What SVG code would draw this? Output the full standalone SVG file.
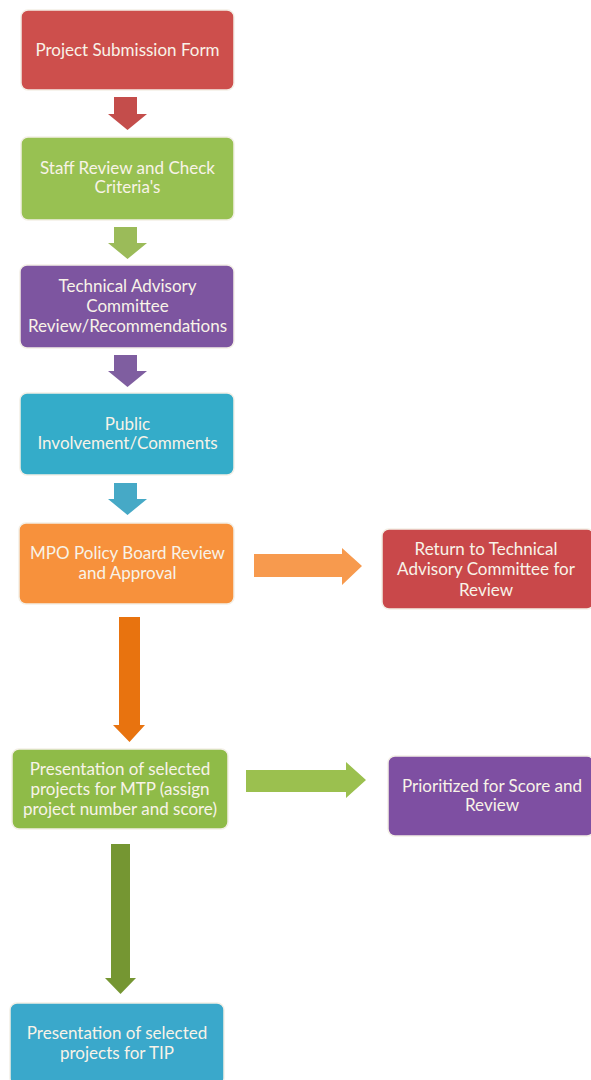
<svg xmlns="http://www.w3.org/2000/svg" width="591" height="1080" viewBox="0 0 591 1080">
<defs>
<style>
.box{stroke:#f3efe6;stroke-width:1.5}
.t{font-family:Lato,"Open Sans","Liberation Sans",sans-serif;font-size:17px;fill:#f8f3e8;text-anchor:middle}
</style>
</defs>
<rect width="591" height="1080" fill="#ffffff"/>
<g id="connectors">
<path d="M114,97 H137 V114 H147 L127.5,130 L108,114 H114 Z" fill="#c44d4b"/>
<path d="M114,227 H137 V243 H147 L127.5,259 L108,243 H114 Z" fill="#9bbb59"/>
<path d="M114,355 H137 V371 H147 L127.5,387 L108,371 H114 Z" fill="#7f5ea0"/>
<path d="M114,483 H137 V499 H147 L127.5,515 L108,499 H114 Z" fill="#46a9c6"/>
<path d="M254,554 H342 V548 L362,566 L342,585 V577 H254 Z" fill="#f79a4e"/>
<path d="M119,617 H140 V725 H145 L129.5,742 L113,725 H119 Z" fill="#e8730f"/>
<path d="M246,770 H346 V762 L366,780 L346,798 V792 H246 Z" fill="#9bc04f"/>
<path d="M111,844 H130 V978 H136 L120.5,994 L105,978 H111 Z" fill="#759632"/>
</g>
<g id="n1">
<rect class="box" x="21" y="10" width="213" height="80" rx="7" fill="#cd4f4c"/>
<text class="t" x="127.5" y="56">Project Submission Form</text>
</g>
<g id="n2">
<rect class="box" x="21" y="137" width="213" height="83" rx="7" fill="#98c152"/>
<text class="t" x="127.5" y="174">Staff Review and Check</text>
<text class="t" x="127.5" y="193">Criteria's</text>
</g>
<g id="n3">
<rect class="box" x="20" y="265" width="214" height="83" rx="7" fill="#7d55a0"/>
<text class="t" x="127.5" y="292">Technical Advisory</text>
<text class="t" x="127.5" y="312">Committee</text>
<text class="t" x="127.5" y="332">Review/Recommendations</text>
</g>
<g id="n4">
<rect class="box" x="20" y="393" width="214" height="82" rx="7" fill="#34acc9"/>
<text class="t" x="127.5" y="430">Public</text>
<text class="t" x="127.5" y="449">Involvement/Comments</text>
</g>
<g id="n5">
<rect class="box" x="19" y="523" width="215" height="81" rx="7" fill="#f7913c"/>
<text class="t" x="127.5" y="559">MPO Policy Board Review</text>
<text class="t" x="127.5" y="579">and Approval</text>
</g>
<g id="n6">
<rect class="box" x="382" y="529" width="212" height="80" rx="7" fill="#c9484a"/>
<text class="t" x="486" y="555">Return to Technical</text>
<text class="t" x="486" y="575">Advisory Committee for</text>
<text class="t" x="486" y="596">Review</text>
</g>
<g id="n7">
<rect class="box" x="12" y="749" width="216" height="80" rx="7" fill="#8fbb48"/>
<text class="t" x="120" y="775">Presentation of selected</text>
<text class="t" x="120" y="795">projects for MTP (assign</text>
<text class="t" x="120" y="815">project number and score)</text>
</g>
<g id="n8">
<rect class="box" x="388" y="756" width="206" height="80" rx="7" fill="#7e4fa2"/>
<text class="t" x="492" y="792">Prioritized for Score and</text>
<text class="t" x="492" y="811">Review</text>
</g>
<g id="n9">
<rect class="box" x="10" y="1003" width="214" height="82" rx="7" fill="#3aa8cb"/>
<text class="t" x="117" y="1039">Presentation of selected</text>
<text class="t" x="117" y="1059">projects for TIP</text>
</g>
</svg>
